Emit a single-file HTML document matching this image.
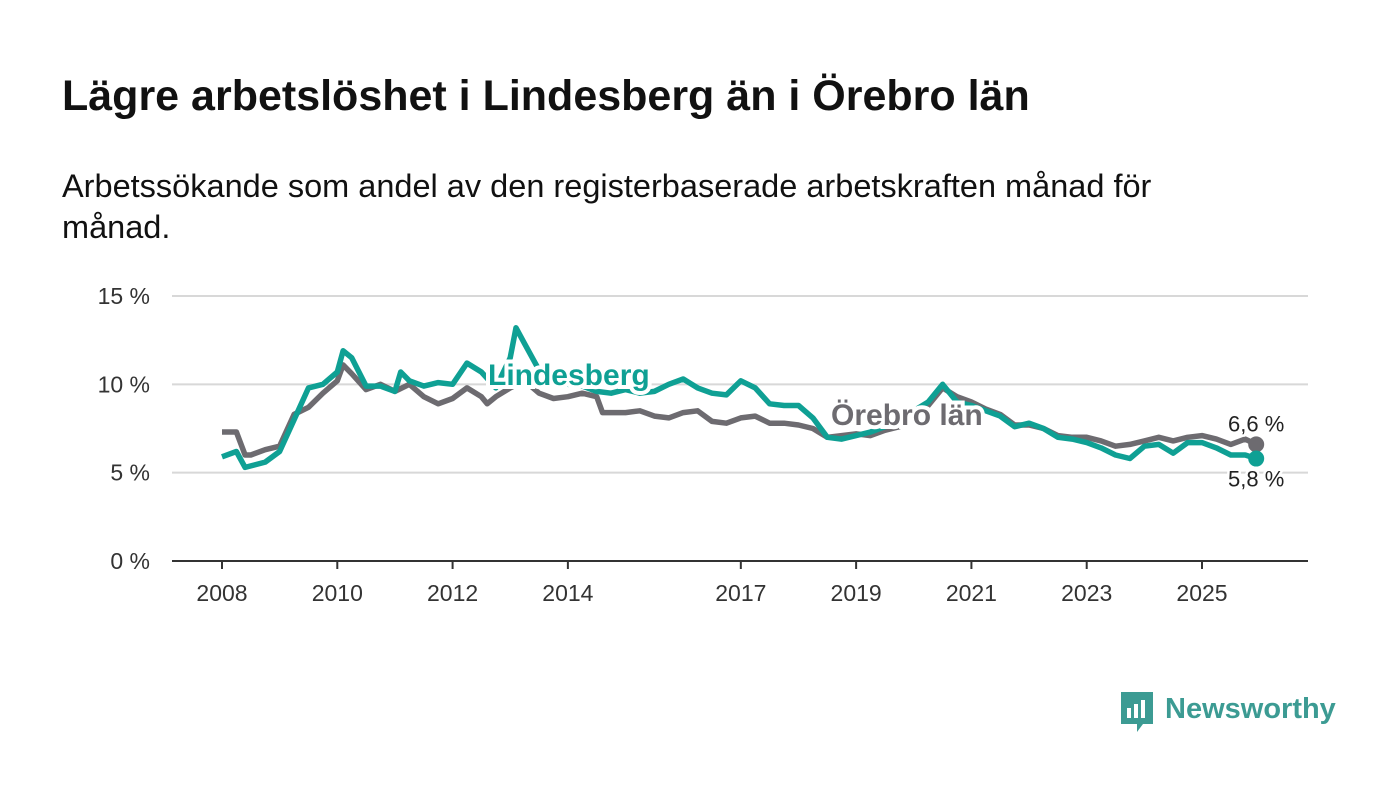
<!DOCTYPE html>
<html><head><meta charset="utf-8"><style>
body{margin:0;width:1400px;height:794px;background:#fff;font-family:"Liberation Sans",sans-serif;overflow:hidden}
h1{position:absolute;left:62px;top:72px;margin:0;font-size:43px;font-weight:bold;color:#111}
p.sub{position:absolute;left:62px;top:166px;margin:0;font-size:32.5px;line-height:41px;color:#111;width:1190px}
svg{position:absolute;left:0;top:0}
</style></head><body>
<h1>Lägre arbetslöshet i Lindesberg än i Örebro län</h1>
<p class="sub">Arbetssökande som andel av den registerbaserade arbetskraften månad för månad.</p>
<svg width="1400" height="794" id="chart"></svg>
<div style="position:absolute;left:1119px;top:690px;display:flex;align-items:center">
<svg width="36" height="44" style="position:static"><path d="M2 2h32v32H24l-6 8v-8H2z" fill="#3c9b93"/><rect x="8" y="18" width="4" height="10" fill="#fff"/><rect x="15" y="14" width="4" height="14" fill="#fff"/><rect x="22" y="10" width="4" height="18" fill="#fff"/></svg>
<span style="font-size:29px;font-weight:bold;color:#3c9b93;margin-left:10px;margin-top:-6px">Newsworthy</span></div>
<script>
const years=[2008,2010,2012,2014,2017,2019,2021,2023,2025];
const yTicks=[0,5,10,15];
const tGrey=[2008,2008.25,2008.4,2008.5,2008.75,2009,2009.25,2009.5,2009.75,2010,2010.1,2010.25,2010.5,2010.75,2011,2011.25,2011.5,2011.75,2012,2012.25,2012.5,2012.6,2012.75,2013,2013.25,2013.5,2013.75,2014,2014.25,2014.5,2014.6,2014.75,2015,2015.25,2015.5,2015.75,2016,2016.25,2016.5,2016.75,2017,2017.25,2017.5,2017.75,2018,2018.25,2018.5,2018.75,2019,2019.25,2019.5,2019.75,2020,2020.25,2020.5,2020.75,2021,2021.25,2021.5,2021.75,2022,2022.25,2022.5,2022.75,2023,2023.25,2023.5,2023.75,2024,2024.25,2024.5,2024.75,2025,2025.25,2025.5,2025.75,2025.94];
const orebro=[7.3,7.3,6.0,6.0,6.3,6.5,8.3,8.7,9.5,10.2,11.1,10.6,9.7,10.0,9.6,10.0,9.3,8.9,9.2,9.8,9.3,8.9,9.3,9.8,10.2,9.5,9.2,9.3,9.5,9.3,8.4,8.4,8.4,8.5,8.2,8.1,8.4,8.5,7.9,7.8,8.1,8.2,7.8,7.8,7.7,7.5,7.0,7.1,7.2,7.1,7.4,7.6,8.2,8.8,9.8,9.3,9.0,8.6,8.3,7.7,7.7,7.5,7.1,7.0,7.0,6.8,6.5,6.6,6.8,7.0,6.8,7.0,7.1,6.9,6.6,6.9,6.6];
const tTeal=[2008,2008.25,2008.4,2008.75,2009,2009.25,2009.5,2009.75,2010,2010.1,2010.25,2010.5,2010.75,2011,2011.1,2011.25,2011.5,2011.75,2012,2012.25,2012.5,2012.75,2013,2013.1,2013.25,2013.5,2013.75,2014,2014.25,2014.5,2014.75,2015,2015.25,2015.5,2015.75,2016,2016.25,2016.5,2016.75,2017,2017.25,2017.5,2017.75,2018,2018.25,2018.5,2018.75,2019,2019.25,2019.5,2019.75,2020,2020.25,2020.5,2020.75,2021,2021.25,2021.5,2021.75,2022,2022.25,2022.5,2022.75,2023,2023.25,2023.5,2023.75,2024,2024.25,2024.5,2024.75,2025,2025.25,2025.5,2025.75,2025.94];
const lindesberg=[5.9,6.2,5.3,5.6,6.2,8.0,9.8,10.0,10.7,11.9,11.5,9.9,9.9,9.6,10.7,10.2,9.9,10.1,10.0,11.2,10.7,9.8,11.5,13.2,12.3,10.8,10.0,10.0,9.9,9.6,9.5,9.7,9.5,9.6,10.0,10.3,9.8,9.5,9.4,10.2,9.8,8.9,8.8,8.8,8.1,7.0,6.9,7.1,7.3,7.6,7.8,8.5,9.0,10.0,9.0,8.8,8.5,8.2,7.6,7.8,7.5,7.0,6.9,6.7,6.4,6.0,5.8,6.5,6.6,6.1,6.7,6.7,6.4,6.0,6.0,5.8];
const NS="http://www.w3.org/2000/svg";
const svg=document.getElementById('chart');
const X=t=>222+(t-2008)*980/17;
const Y=v=>561-v*(265/15);
function mk(tag,attrs,txt){const e=document.createElementNS(NS,tag);for(const k in attrs)e.setAttribute(k,attrs[k]);if(txt!=null)e.textContent=txt;svg.appendChild(e);return e;}
yTicks.forEach(v=>{
 if(v>0){const g=mk('line',{x1:172,x2:1308,y1:Y(v),y2:Y(v),stroke:'#d8d8d8','stroke-width':2});
 
 }
 const t=mk('text',{x:150,y:Y(v)+8,'text-anchor':'end','font-size':23,fill:'#333'},v+' %');
 
 
});
const ax=mk('line',{x1:172,x2:1308,y1:561,y2:561,stroke:'#333','stroke-width':2});


years.forEach(y=>{
 const tk=mk('line',{x1:X(y),x2:X(y),y1:561,y2:569,stroke:'#333','stroke-width':2});
 
 
 const t=mk('text',{x:X(y),y:601,'text-anchor':'middle','font-size':23,fill:'#333'},y);
 
 
});
function path(ts,vs){return ts.map((t,i)=>(i?'L':'M')+X(t).toFixed(1)+' '+Y(vs[i]).toFixed(1)).join(' ');}
const g1=mk('path',{d:path(tGrey,orebro),fill:'none',stroke:'#6d6b70','stroke-width':5.5,'stroke-linejoin':'round'});


const g2=mk('path',{d:path(tTeal,lindesberg),fill:'none',stroke:'#0fa094','stroke-width':5.5,'stroke-linejoin':'round'});


const lt=tTeal[tTeal.length-1],lg=tGrey[tGrey.length-1];
const d1=mk('circle',{cx:X(lg),cy:Y(orebro[orebro.length-1]),r:8,fill:'#6d6b70'});


const d2=mk('circle',{cx:X(lt),cy:Y(lindesberg[lindesberg.length-1]),r:8,fill:'#0fa094'});


const e1=mk('text',{x:X(lg),y:Y(orebro[orebro.length-1])-13,'text-anchor':'middle','font-size':22,fill:'#222',stroke:'#fff','stroke-width':5,'paint-order':'stroke'},orebro[orebro.length-1].toFixed(1).replace('.',',')+' %');


const e2=mk('text',{x:X(lt),y:Y(lindesberg[lindesberg.length-1])+28,'text-anchor':'middle','font-size':22,fill:'#222',stroke:'#fff','stroke-width':5,'paint-order':'stroke'},lindesberg[lindesberg.length-1].toFixed(1).replace('.',',')+' %');


const l1=mk('text',{x:488,y:385,'font-size':30,'font-weight':'bold',fill:'#0fa094',stroke:'#fff','stroke-width':8,'paint-order':'stroke'},'Lindesberg');


const l2=mk('text',{x:831,y:425,'font-size':30,'font-weight':'bold',fill:'#6d6b70',stroke:'#fff','stroke-width':8,'paint-order':'stroke'},'Örebro län');


</script>
</body></html>
